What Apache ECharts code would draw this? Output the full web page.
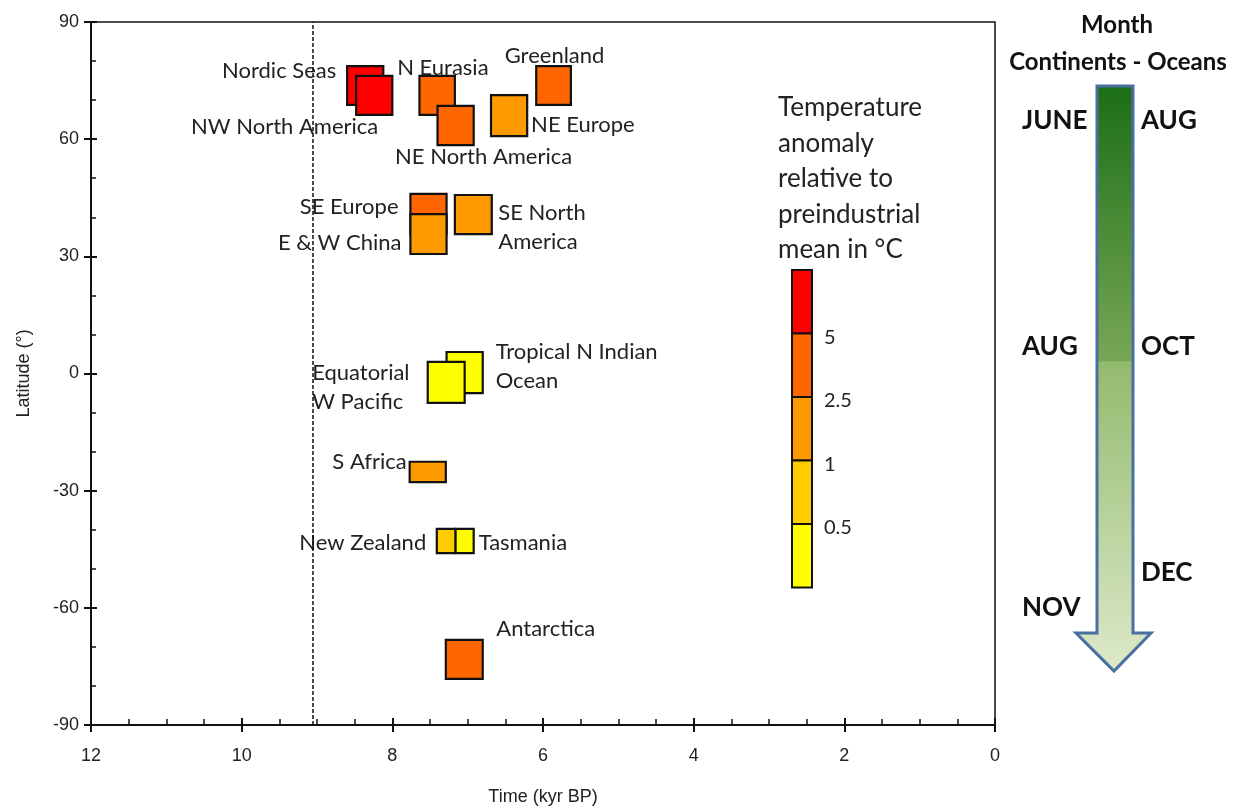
<!DOCTYPE html>
<html>
<head>
<meta charset="utf-8">
<script src="https://cdn.jsdelivr.net/npm/echarts@6/dist/echarts.min.js"></script>
<style>
  html, body { margin: 0; padding: 0; background: #fff; }
  #chart { width: 1246px; height: 808px; }
</style>
</head>
<body>
<div id="chart"></div>
<script>
// regions, drawn in this order (later ones sit on top)
var regions = ['Nordic Seas', 'NW North America', 'N Eurasia', 'NE North America', 'NE Europe',
  'Greenland', 'SE Europe', 'E & W China', 'SE North\nAmerica', 'Tropical N Indian\nOcean',
  'Equatorial\nW Pacific', 'S Africa', 'New Zealand', 'Tasmania', 'Antarctica'];
// time window (kyr BP)
var timeFrom = [8.6, 8.48, 7.64, 7.4, 6.69, 6.09, 7.76, 7.76, 7.17, 7.28, 7.53, 7.77, 7.41, 7.16, 7.29];
var timeTo   = [8.12, 8.0, 7.17, 6.92, 6.21, 5.63, 7.28, 7.28, 6.68, 6.8, 7.04, 7.29, 7.16, 6.92, 6.8];
// latitude band (deg)
var latMin = [68.8, 66.2, 66.2, 58.5, 60.8, 68.8, 35.7, 30.6, 35.7, -5.0, -7.5, -27.8, -46.0, -46.0, -78.2];
var latMax = [78.7, 76.2, 76.2, 68.5, 71.3, 78.7, 46.0, 40.8, 45.7, 5.5, 3.0, -22.6, -39.8, -39.8, -68.2];
// temperature anomaly (deg C)
var anomaly = [6, 6, 3.5, 3.5, 1.5, 3.5, 3.5, 1.5, 1.5, 0.3, 0.3, 1.5, 0.7, 0.3, 3.5];

var legendBreaks = [5, 2.5, 1, 0.5];
var classColors = ['#ff0000', '#ff6600', '#ff9900', '#ffcc00', '#ffff00'];
var yearTicks = [12, 10, 8, 6, 4, 2, 0];
var latTicks = [-90, -60, -30, 0, 30, 60, 90];
var holoceneStart = 9.05;

// label placement relative to box centre: [dx, dy, align]
var labelLayout = [
  [-29, -15, 'right'], [4, 31, 'right'], [-40, -28, 'left'], [28, 31, 'center'], [22, 9, 'left'],
  [1, -30, 'center'], [-30, -7, 'right'], [-27, 9, 'right'], [25, 13, 'left'], [31, -6, 'left'],
  [-134, 5, 'left'], [-21, -10, 'right'], [-20, 2, 'right'], [14, 2, 'left'], [32, -30, 'left']
];

function colorFor(v) {
  for (var k = 0; k < legendBreaks.length; k++) {
    if (v >= legendBreaks[k]) return classColors[k];
  }
  return classColors[classColors.length - 1];
}

var boxData = regions.map(function (name, i) {
  return [timeFrom[i], timeTo[i], latMin[i], latMax[i], anomaly[i]];
});

var chart = echarts.init(document.getElementById('chart'));
var labelFont = 'Lato, "Open Sans", sans-serif';
var axisFont = '"Liberation Sans", Arial, sans-serif';

// colour bar legend
var barX = 792, barW = 20, barTop = 270, segH = 63.5;
var legendGraphics = [];
classColors.forEach(function (c, k) {
  legendGraphics.push({
    type: 'rect', shape: { x: barX, y: barTop + k * segH, width: barW, height: segH },
    style: { fill: c, stroke: '#111', lineWidth: 2 }
  });
});
legendBreaks.forEach(function (b, k) {
  legendGraphics.push({
    type: 'text', x: 824, y: barTop + (k + 1) * segH + 4,
    style: { text: String(b), font: '20px ' + labelFont, fill: '#222', verticalAlign: 'middle' }
  });
});
legendGraphics.push({
  type: 'text', x: 778, y: 90,
  style: {
    text: 'Temperature\nanomaly\nrelative to\npreindustrial\nmean in °C',
    font: '26px ' + labelFont, fill: '#222', lineHeight: 35.5
  }
});

// month arrow panel
var arrowGraphics = [
  {
    type: 'polygon',
    shape: { points: [[1097, 86], [1133, 86], [1133, 633], [1151, 633], [1114, 671], [1076, 633], [1097, 633]] },
    style: {
      fill: {
        type: 'linear', x: 0, y: 0, x2: 0, y2: 1,
        colorStops: [
          { offset: 0, color: '#1b6e17' },
          { offset: 0.47, color: '#78a754' },
          { offset: 0.472, color: '#93bb6e' },
          { offset: 1, color: '#dde9c9' }
        ]
      },
      stroke: '#4a6fa3', lineWidth: 3
    }
  },
  { type: 'text', x: 1117, y: 25, style: { text: 'Month', font: 'bold 24px ' + labelFont, fill: '#111', align: 'center', verticalAlign: 'middle' } },
  { type: 'text', x: 1118, y: 62, style: { text: 'Continents - Oceans', font: 'bold 24px ' + labelFont, fill: '#111', align: 'center', verticalAlign: 'middle' } }
];
var monthLabels = [['JUNE', 1022, 121], ['AUG', 1141, 121], ['AUG', 1022, 347], ['OCT', 1141, 347], ['DEC', 1141, 573], ['NOV', 1022, 608]];
monthLabels.forEach(function (m) {
  arrowGraphics.push({
    type: 'text', x: m[1], y: m[2],
    style: { text: m[0], font: 'bold 26px ' + labelFont, fill: '#111', verticalAlign: 'middle' }
  });
});

var gridBox = { left: 91, right: 251, top: 22, bottom: 83, outerBoundsMode: 'none', containLabel: false };
var tickStyle = { color: '#111', width: 2 };

var option = {
  animation: false,
  backgroundColor: '#fff',
  grid: [
    Object.assign({ show: true, borderColor: '#111', borderWidth: 1.5 }, gridBox),
    Object.assign({ show: false }, gridBox)
  ],
  xAxis: [
    {
      gridIndex: 0, type: 'value', inverse: true, min: 0, max: 12, interval: 2,
      name: 'Time (kyr BP)', nameLocation: 'middle', nameGap: 63,
      nameTextStyle: { fontFamily: axisFont, fontSize: 18, color: '#222' },
      axisLine: { onZero: false, lineStyle: tickStyle },
      axisTick: { length: 7, lineStyle: tickStyle },
      axisLabel: { margin: 22, fontFamily: axisFont, fontSize: 18, color: '#222',
        formatter: function (v) { return yearTicks.indexOf(v) >= 0 ? String(v) : ''; } },
      splitLine: { show: false }
    },
    {
      gridIndex: 1, type: 'value', inverse: true, min: 0, max: 12, interval: 2, position: 'bottom',
      axisLine: { show: false, onZero: false },
      axisTick: { inside: true, length: 7, lineStyle: tickStyle },
      minorTick: { show: true, splitNumber: 4, length: 6, lineStyle: { color: '#111', width: 1.5 } },
      axisLabel: { show: false },
      splitLine: { show: false }
    }
  ],
  yAxis: [
    {
      gridIndex: 0, type: 'value', min: -90, max: 90, interval: 30,
      name: 'Latitude (°)', nameLocation: 'middle', nameGap: 58, nameRotate: 90,
      nameTextStyle: { fontFamily: axisFont, fontSize: 18, color: '#222' },
      axisLine: { onZero: false, lineStyle: tickStyle },
      axisTick: { length: 7, lineStyle: tickStyle },
      axisLabel: { margin: 12, fontFamily: axisFont, fontSize: 18, color: '#222',
        formatter: function (v) { return latTicks.indexOf(v) >= 0 ? String(v) : ''; } },
      splitLine: { show: false }
    },
    {
      gridIndex: 1, type: 'value', min: -90, max: 90, interval: 30, position: 'left',
      axisLine: { show: false, onZero: false },
      axisTick: { inside: true, length: 6, lineStyle: tickStyle },
      minorTick: { show: true, splitNumber: 3, length: 5, lineStyle: { color: '#111', width: 1.5 } },
      axisLabel: { show: false },
      splitLine: { show: false }
    }
  ],
  graphic: legendGraphics.concat(arrowGraphics),
  series: [
    {
      type: 'custom',
      xAxisIndex: 0, yAxisIndex: 0,
      data: boxData,
      encode: { x: [0, 1], y: [2, 3] },
      renderItem: function (params, api) {
        var i = params.dataIndex;
        var a = api.coord([api.value(0), api.value(3)]);
        var b = api.coord([api.value(1), api.value(2)]);
        var x = Math.min(a[0], b[0]), y = Math.min(a[1], b[1]);
        var w = Math.abs(b[0] - a[0]), h = Math.abs(b[1] - a[1]);
        var cx = x + w / 2, cy = y + h / 2;
        var lay = labelLayout[i];
        return {
          type: 'group',
          children: [
            {
              type: 'rect', shape: { x: x, y: y, width: w, height: h },
              style: { fill: colorFor(api.value(4)), stroke: '#111', lineWidth: 2.2 }
            },
            {
              type: 'text', x: cx + lay[0], y: cy + lay[1],
              style: {
                text: regions[i], font: '22px ' + labelFont, fill: '#222',
                align: lay[2], verticalAlign: 'middle', lineHeight: 29
              }
            }
          ]
        };
      },
      markLine: {
        silent: true, symbol: ['none', 'none'], label: { show: false },
        lineStyle: { color: '#111', type: [4, 2], width: 1.5 },
        data: [{ xAxis: holoceneStart }]
      }
    }
  ]
};

chart.setOption(option);
</script>
</body>
</html>
